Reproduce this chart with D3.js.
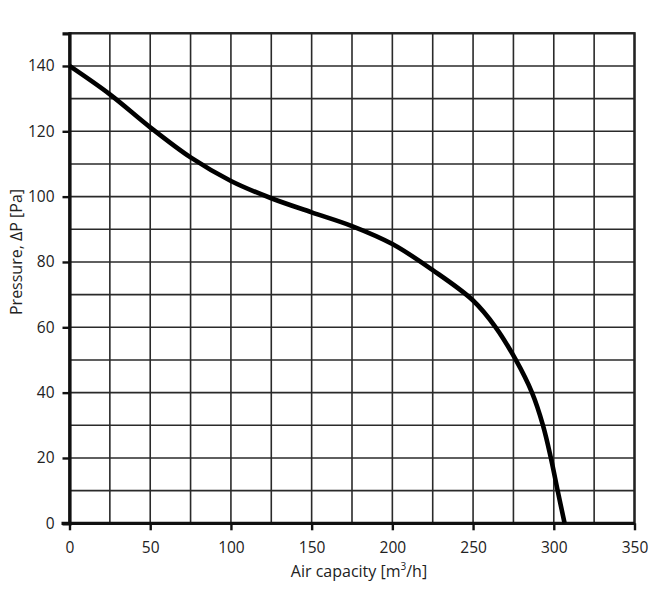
<!DOCTYPE html>
<html><head><meta charset="utf-8">
<script src="https://cdn.jsdelivr.net/npm/d3@7"></script>
<style>body{margin:0;background:#fff}text{font-family:"Open Sans",sans-serif;fill:#222}</style>
</head><body>
<svg id="c" width="660" height="609"></svg>
<script>
const airCapacity = [0,25,50,75,100,125,150,175,200,225,250,264,276.5,286.5,293.3,298.2,302.4,306.7];
const pressure    = [140,131.3,121.2,112,104.8,99.5,95.2,91.0,85.5,77.5,68.2,60,50,40,30,20,10,0];
const xTicks = [0,50,100,150,200,250,300,350];
const yTicks = [0,20,40,60,80,100,120,140];
const xGrid = d3.range(0,351,25);
const yGrid = d3.range(0,151,10);

const svg = d3.select("#c");
const x = d3.scaleLinear().domain([0,350]).range([69.5,634.5]);
const y = d3.scaleLinear().domain([0,150]).range([523.3,33.3]);

const g = svg.append("g");
g.selectAll(".vg").data(xGrid).join("line")
  .attr("x1",d=>x(d)).attr("x2",d=>x(d)).attr("y1",y(0)).attr("y2",y(150))
  .attr("stroke","#2a2a2a").attr("stroke-width",1.6);
g.selectAll(".hg").data(yGrid).join("line")
  .attr("x1",x(0)).attr("x2",x(350)).attr("y1",d=>y(d)).attr("y2",d=>y(d))
  .attr("stroke","#2a2a2a").attr("stroke-width",1.6);
g.append("rect").attr("x",x(0)).attr("y",y(150)).attr("width",x(350)-x(0)).attr("height",y(0)-y(150))
  .attr("fill","none").attr("stroke","#222").attr("stroke-width",2.4);

const xAxis = d3.axisBottom(x).tickValues(xTicks).tickSize(7).tickPadding(13);
const yAxis = d3.axisLeft(y).tickValues(yTicks).tickSize(7).tickPadding(8);
const gx = svg.append("g").attr("transform",`translate(0,${y(0)})`).call(xAxis);
const gy = svg.append("g").attr("transform",`translate(${x(0)},0)`).call(yAxis);
[gx,gy].forEach(a=>{
  a.select(".domain").attr("stroke","#111").attr("stroke-width",3.2);
  a.selectAll(".tick line").attr("stroke","#111").attr("stroke-width",2.4);
  a.selectAll(".tick text").style("font-family","'Open Sans',sans-serif").style("font-size","15.5px").attr("fill","#222");
});
gx.select(".domain").attr("d",`M${x(0)-8},0H${x(350)}`);
gx.selectAll(".tick text").attr("dy","0.62em");

const line = d3.line().x((d,i)=>x(airCapacity[i])).y(d=>y(d)).curve(d3.curveCatmullRom.alpha(0.5));
svg.append("path").datum(pressure).attr("d",line)
  .attr("fill","none").attr("stroke","#000").attr("stroke-width",4.6).attr("stroke-linejoin","round");

const xt = svg.append("text").attr("x",359).attr("y",577).attr("text-anchor","middle").style("font-size","16px");
xt.append("tspan").text("Air capacity [m");
xt.append("tspan").attr("dy",-7).style("font-size","10px").text("3");
xt.append("tspan").attr("dy",7).text("/h]");

svg.append("text").attr("transform","translate(22,252) rotate(-90)").attr("text-anchor","middle")
  .style("font-size","16px").text("Pressure, ΔP [Pa]");
</script>
</body></html>
